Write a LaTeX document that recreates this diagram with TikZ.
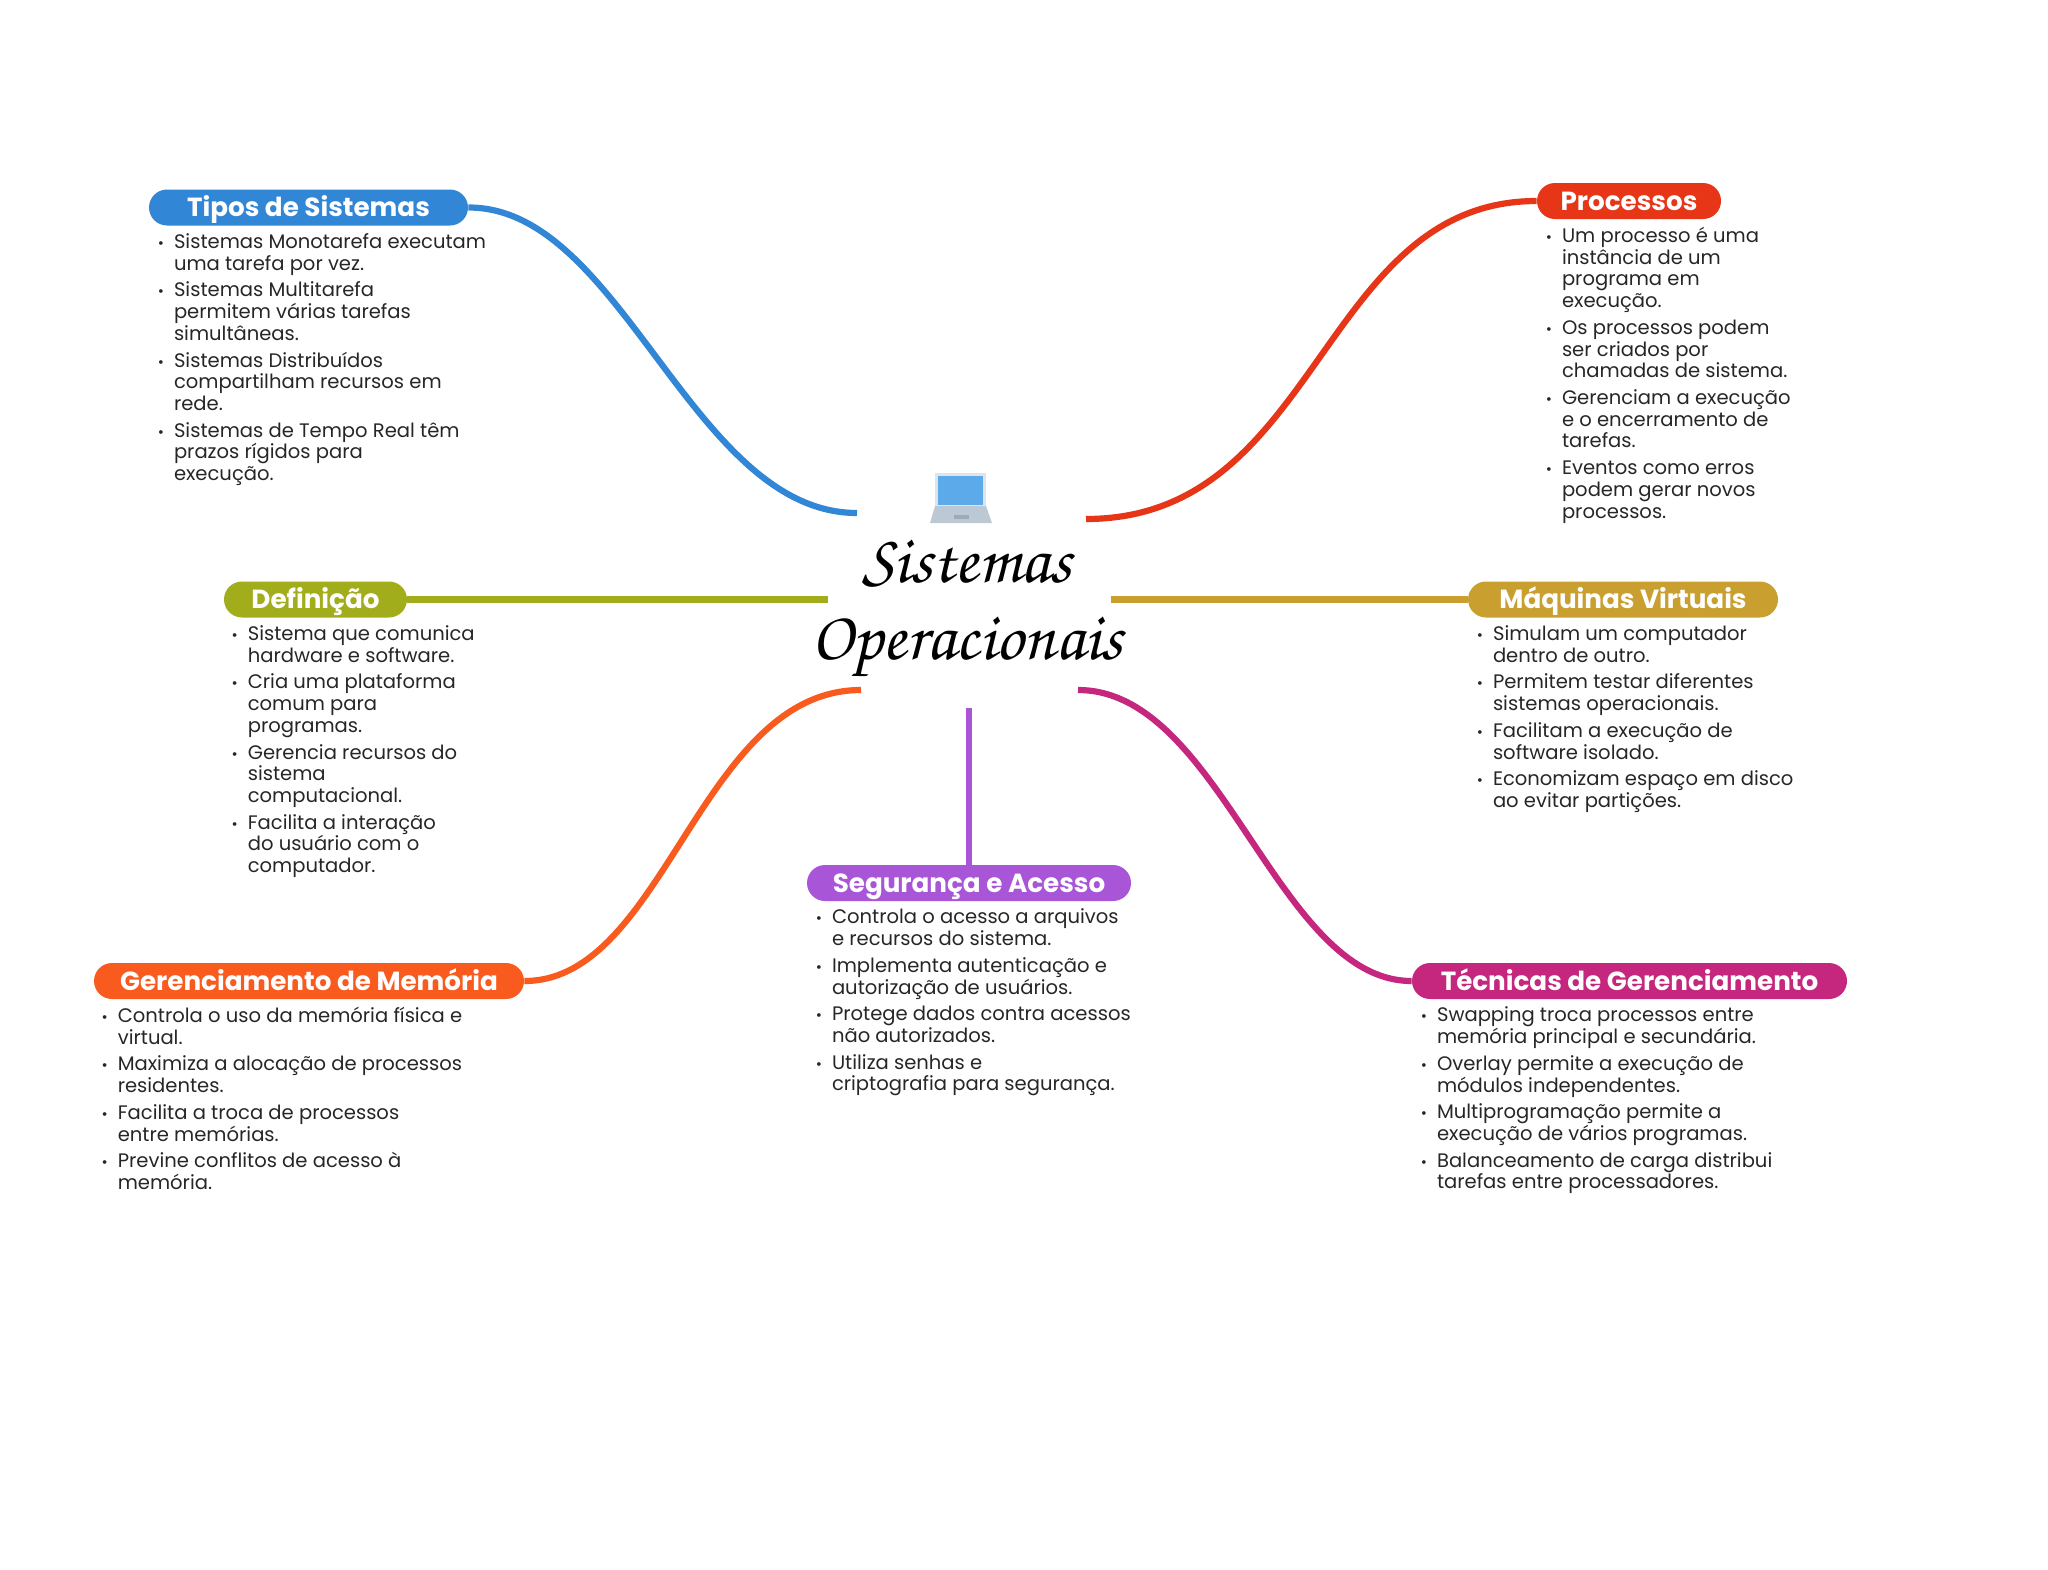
\documentclass[tikz,border=0pt]{standalone}
\usepackage[T1,TU]{fontenc}
\usepackage{fontspec}
\setmainfont{Poppins}
\usetikzlibrary{positioning}
\definecolor{blueC}{HTML}{3186D6}
\definecolor{redC}{HTML}{E63517}
\definecolor{oliveC}{HTML}{A2AD1C}
\definecolor{goldC}{HTML}{C9A030}
\definecolor{orangeC}{HTML}{F95B1E}
\definecolor{purpleC}{HTML}{A855D8}
\definecolor{magentaC}{HTML}{C5277F}
\definecolor{screenC}{HTML}{5DAAEB}
\definecolor{frameC}{HTML}{DDE4EA}
\definecolor{baseC}{HTML}{BCC9D4}
\definecolor{padC}{HTML}{9BABB8}
\newcommand{\bul}{\leavevmode\llap{{\fontsize{7.5}{7.5}\selectfont •}\hspace{5pt}}}
\tikzstyle{pill} = [rectangle, rounded corners=9pt, minimum height=18pt, inner sep=0pt, text=white, text height=10.7pt, text depth=1.3pt, font=\fontsize{13.1}{15}\selectfont\bfseries]
\tikzstyle{bodytext} = [anchor=north west, align=left, inner sep=0pt, xshift=12.5pt, yshift=-3.6pt, text=black!85, font=\fontsize{9.78}{10.88}\selectfont]
\tikzstyle{branch} = [line width=3.1pt]
\begin{document}
\begin{tikzpicture}[x=0.5pt, y=-0.5pt]
\useasboundingbox (0,0) rectangle (2048,1569);

\node (tipos) [pill, fill=blueC, minimum width=159.5pt] at (308.5,207.5) {Tipos de Sistemas};
\node (processos) [pill, fill=redC, minimum width=92pt] at (1629,201) {Processos};
\node (definicao) [pill, fill=oliveC, minimum width=91.5pt] at (315.5,599.5) {Definição};
\node (maquinas) [pill, fill=goldC, minimum width=155pt] at (1623,599.5) {Máquinas Virtuais};
\node (memoria) [pill, fill=orangeC, minimum width=215pt] at (309,981) {Gerenciamento de Memória};
\node (seguranca) [pill, fill=purpleC, minimum width=162pt] at (969,883) {Segurança e Acesso};
\node (tecnicas) [pill, fill=magentaC, minimum width=217.5pt] at (1629.5,981) {Técnicas de Gerenciamento};

\node (tiposText) [bodytext] at (tipos.south west) {\bul Sistemas Monotarefa executam\\uma tarefa por vez.\\[2.45pt]
\bul Sistemas Multitarefa\\permitem várias tarefas\\simultâneas.\\[2.45pt]
\bul Sistemas Distribuídos\\compartilham recursos em\\rede.\\[2.45pt]
\bul Sistemas de Tempo Real têm\\prazos rígidos para\\execução.};
\node (processosText) [bodytext] at (processos.south west) {\bul Um processo é uma\\instância de um\\programa em\\execução.\\[2.45pt]
\bul Os processos podem\\ser criados por\\chamadas de sistema.\\[2.45pt]
\bul Gerenciam a execução\\e o encerramento de\\tarefas.\\[2.45pt]
\bul Eventos como erros\\podem gerar novos\\processos.};
\node (definicaoText) [bodytext, xshift=-0.6pt] at (definicao.south west) {\bul Sistema que comunica\\hardware e software.\\[2.45pt]
\bul Cria uma plataforma\\comum para\\programas.\\[2.45pt]
\bul Gerencia recursos do\\sistema\\computacional.\\[2.45pt]
\bul Facilita a interação\\do usuário com o\\computador.};
\node (maquinasText) [bodytext] at (maquinas.south west) {\bul Simulam um computador\\dentro de outro.\\[2.45pt]
\bul Permitem testar diferentes\\sistemas operacionais.\\[2.45pt]
\bul Facilitam a execução de\\software isolado.\\[2.45pt]
\bul Economizam espaço em disco\\ao evitar partições.};
\node (memoriaText) [bodytext, xshift=-0.6pt] at (memoria.south west) {\bul Controla o uso da memória física e\\virtual.\\[2.45pt]
\bul Maximiza a alocação de processos\\residentes.\\[2.45pt]
\bul Facilita a troca de processos\\entre memórias.\\[2.45pt]
\bul Previne conflitos de acesso à\\memória.};
\node (segurancaText) [bodytext] at (seguranca.south west) {\bul Controla o acesso a arquivos\\e recursos do sistema.\\[2.45pt]
\bul Implementa autenticação e\\autorização de usuários.\\[2.45pt]
\bul Protege dados contra acessos\\não autorizados.\\[2.45pt]
\bul Utiliza senhas e\\criptografia para segurança.};
\node (tecnicasText) [bodytext] at (tecnicas.south west) {\bul Swapping troca processos entre\\memória principal e secundária.\\[2.45pt]
\bul Overlay permite a execução de\\módulos independentes.\\[2.45pt]
\bul Multiprogramação permite a\\execução de vários programas.\\[2.45pt]
\bul Balanceamento de carga distribui\\tarefas entre processadores.};

% centre
\node (centro) [align=center, inner sep=0pt, font=\fontencoding{T1}\fontfamily{pzc}\fontseries{mb}\fontshape{it}\fontsize{34.5}{38.5}\selectfont] at (967,610) {Sistemas\\Operacionais};

\fill[frameC] (935,473) rectangle (986,506);
\fill[screenC] (938,476) rectangle (983,505);
\fill[baseC] (935,506) -- (986,506) -- (992,523) -- (930,523) -- cycle;
\fill[padC] (954,515) rectangle (969,519);

\coordinate (tiposEnd) at (857,513);
\coordinate (processosEnd) at (1086,519);
\coordinate (definicaoEnd) at (828,599.5);
\coordinate (maquinasEnd) at (1111,599.5);
\coordinate (memoriaEnd) at (861,690);
\coordinate (segurancaEnd) at (969,708);
\coordinate (tecnicasEnd) at (1078,690);

\draw [branch, blueC] (tipos.east) .. controls (622,207) and (692,513) .. (tiposEnd);
\draw [branch, redC] (processos.west) .. controls (1320,201) and (1320,519) .. (processosEnd);
\draw [branch, oliveC] (definicao.east) -- (definicaoEnd);
\draw [branch, goldC] (maquinas.west) -- (maquinasEnd);
\draw [branch, orangeC] (memoria.east) .. controls (665,981) and (700,690) .. (memoriaEnd);
\draw [branch, purpleC] (seguranca.north) -- (segurancaEnd);
\draw [branch, magentaC] (tecnicas.west) .. controls (1277,981) and (1221,690) .. (tecnicasEnd);
\end{tikzpicture}
\end{document}
